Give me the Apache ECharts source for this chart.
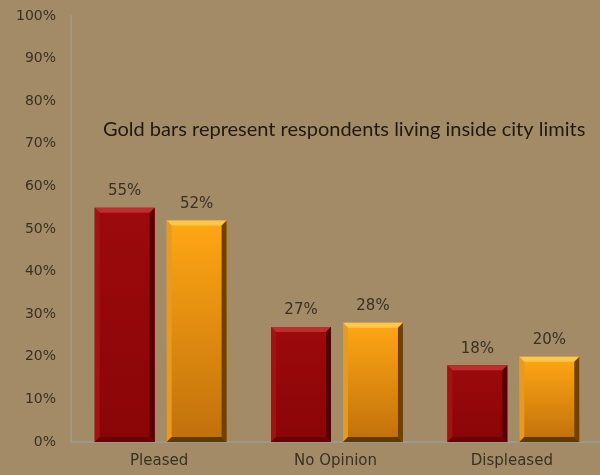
<!DOCTYPE html>
<html>
<head>
<meta charset="utf-8">
<script src="https://cdn.jsdelivr.net/npm/echarts@6/dist/echarts.min.js"></script>
<style>
  html, body { margin: 0; padding: 0; background: #A38B67; }
  #chart { width: 600px; height: 475px; }
</style>
</head>
<body>
<div id="chart"></div>
<script>
// Survey responses: all respondents (red) vs. respondents inside city limits (gold)
const categories = ['Pleased', 'No Opinion', 'Displeased'];
const redValues = [55, 27, 18];
const goldValues = [52, 28, 20];
const yTicks = [0, 10, 20, 30, 40, 50, 60, 70, 80, 90, 100];

const palettes = {
  red: {
    top: '#9C0A0C', bottom: '#8A0507',
    bevelTop: '#BE2D30', bevelLeft: '#A51214',
    bevelRight: '#520203', bevelBottom: '#640405'
  },
  gold: {
    top: '#FFA714', bottom: '#C0700C',
    bevelTop: '#FFC84A', bevelLeft: '#E89A1E',
    bevelRight: '#6E4206', bevelBottom: '#5E3A08'
  }
};

const BEVEL = 5;
const GAP = 12;

// Bevelled bar drawn from the category axis and value axis
function bevelBar(pal, side) {
  return function (params, api) {
    const catIdx = api.value(0);
    const v = api.value(1);
    const base = api.coord([catIdx, 0]);
    const topPt = api.coord([catIdx, v]);
    const band = api.size([1, 0])[0];
    const w = band * 0.34;
    const cx = base[0] + 1.5;
    const x0 = side < 0 ? cx - GAP / 2 - w : cx + GAP / 2;
    const x1 = x0 + w;
    const y0 = topPt[1];
    const y1 = base[1];
    const b = Math.min(BEVEL, (y1 - y0) / 2);
    const grad = new echarts.graphic.LinearGradient(0, 0, 0, 1, [
      { offset: 0, color: pal.top },
      { offset: 1, color: pal.bottom }
    ]);
    const poly = (pts, fill) => ({ type: 'polygon', shape: { points: pts }, style: { fill: fill } });
    return {
      type: 'group',
      children: [
        { type: 'rect', shape: { x: x0, y: y0, width: w, height: y1 - y0 }, style: { fill: grad } },
        poly([[x0, y0], [x1, y0], [x1 - b, y0 + b], [x0 + b, y0 + b]], pal.bevelTop),
        poly([[x0, y0], [x0 + b, y0 + b], [x0 + b, y1 - b], [x0, y1]], pal.bevelLeft),
        poly([[x1, y0], [x1, y1], [x1 - b, y1 - b], [x1 - b, y0 + b]], pal.bevelRight),
        poly([[x0, y1], [x0 + b, y1 - b], [x1 - b, y1 - b], [x1, y1]], pal.bevelBottom),
        {
          type: 'text',
          style: {
            text: v + '%',
            x: (x0 + x1) / 2,
            y: y0 - 9,
            align: 'center',
            verticalAlign: 'bottom',
            fill: '#3A3022',
            font: '15px "DejaVu Sans", Verdana, sans-serif'
          }
        }
      ]
    };
  };
}

const chart = echarts.init(document.getElementById('chart'), null, { renderer: 'canvas' });

chart.setOption({
  backgroundColor: '#A38B67',
  animation: false,
  grid: { left: 71, top: 16, width: 534, bottom: 33, containLabel: false },
  xAxis: {
    type: 'category',
    data: categories,
    axisLine: { lineStyle: { color: '#9C9890', width: 2 } },
    axisTick: { show: false },
    axisLabel: {
      color: '#3A3022',
      fontSize: 15,
      fontFamily: '"DejaVu Sans", Verdana, sans-serif',
      margin: 12
    }
  },
  yAxis: {
    type: 'value',
    min: yTicks[0],
    max: yTicks[yTicks.length - 1],
    interval: 10,
    axisLine: { show: true, lineStyle: { color: '#9C9890', width: 2 } },
    axisTick: { show: false },
    splitLine: { show: false },
    axisLabel: {
      color: '#3A3022',
      fontSize: 14,
      fontFamily: '"DejaVu Sans", Verdana, sans-serif',
      margin: 15,
      formatter: v => v + '%'
    }
  },
  graphic: [{
    type: 'text',
    left: 103,
    top: 120,
    style: {
      text: 'Gold bars represent respondents living inside city limits',
      fill: '#22190E',
      font: '20px Lato, "Open Sans", sans-serif'
    }
  }],
  series: [
    {
      type: 'custom',
      name: 'All respondents',
      renderItem: bevelBar(palettes.red, -1),
      data: redValues.map((v, i) => [i, v]),
      encode: { x: 0, y: 1 }
    },
    {
      type: 'custom',
      name: 'Inside city limits',
      renderItem: bevelBar(palettes.gold, 1),
      data: goldValues.map((v, i) => [i, v]),
      encode: { x: 0, y: 1 }
    }
  ]
});
</script>
</body>
</html>
